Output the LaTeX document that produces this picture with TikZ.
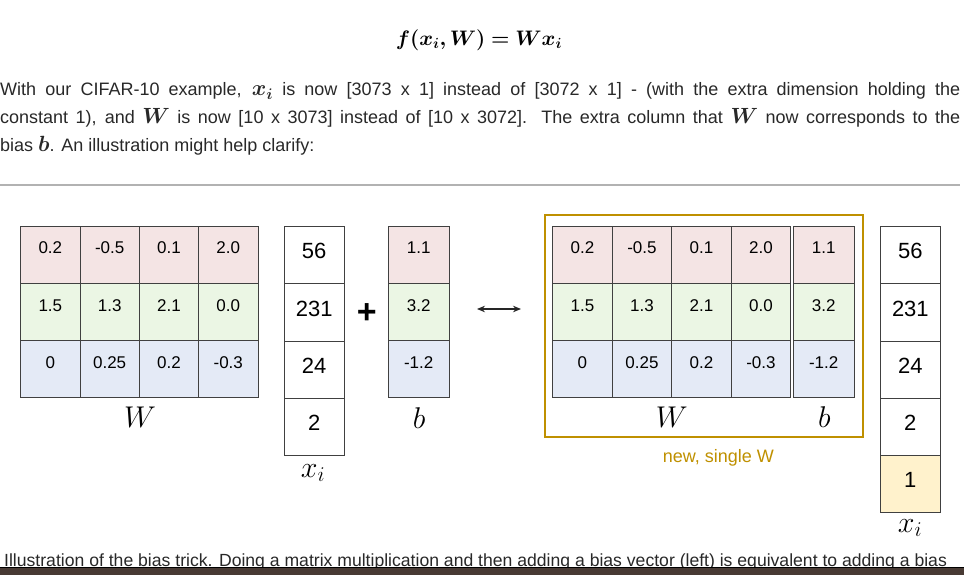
\RequirePackage{fix-cm}
\documentclass[tikz,border=0pt]{standalone}
\usepackage{amsmath,bm}
\usepackage{fontspec}
\setmainfont{Liberation Sans}
\usetikzlibrary{arrows.meta}

\definecolor{rowred}{RGB}{244,228,228}
\definecolor{rowgreen}{RGB}{235,246,228}
\definecolor{rowblue}{RGB}{228,234,246}
\definecolor{oneyellow}{RGB}{255,242,204}
\definecolor{gold}{RGB}{191,144,0}
\definecolor{textgray}{RGB}{40,40,40}
\definecolor{taskbar}{RGB}{72,58,52}

% bold inline math, a little larger than the text
\newcommand*{\inmath}[1]{{\fontsize{22}{22}\selectfont$\bm{#1}$}}

\begin{document}
\begin{tikzpicture}
[
	x=1pt, y=-1pt,
	cell/.style={draw=black!75, line width=0.9pt, minimum width=59.4pt, minimum height=57.2pt, inner sep=0pt},
	bcell/.style={cell, minimum width=60.7pt},
	xcell/.style={cell, minimum width=59.7pt},
	num/.style={font=\fontsize{17}{17}\selectfont, yshift=6.5pt},
	bignum/.style={font=\fontsize{22}{22}\selectfont, yshift=4pt},
	mathlbl/.style={font=\fontsize{30}{30}\selectfont, inner sep=0pt},
	bodytext/.style={inner sep=0pt, text=textgray, font=\fontsize{18}{28}\selectfont}
]
	\useasboundingbox (0,0) rectangle (964,575);

	% formula and text above
	\node (formula) at (479,40) {\fontsize{21}{21}\selectfont$\bm{f(x_i, W) = W x_i}$};
	\node[bodytext, anchor=base west, text width=960pt, align=justify] (para) at (0,96)
		{With our CIFAR-10 example, \inmath{x_i} is now [3073 x 1] instead of [3072 x 1] - (with the extra dimension holding the\linebreak
		constant 1), and \inmath{W} is now [10 x 3073] instead of [10 x 3072]. The extra column that \inmath{W} now corresponds to the\linebreak
		bias \inmath{b}. An illustration might help clarify:};
	\draw[black!30, line width=1.3pt] (0,185) -- (960,185);

	% left: W times x plus b
	\foreach \v [count=\c] in {0.2,-0.5,0.1,2.0}
		\node[cell, fill=rowred, label={[num]center:\v}] (wl-1-\c) at ({50.35+59.3*(\c-1)},254.6) {};
	\foreach \v [count=\c] in {1.5,1.3,2.1,0.0}
		\node[cell, fill=rowgreen, label={[num]center:\v}] (wl-2-\c) at ({50.35+59.3*(\c-1)},311.8) {};
	\foreach \v [count=\c] in {0,0.25,0.2,-0.3}
		\node[cell, fill=rowblue, label={[num]center:\v}] (wl-3-\c) at ({50.35+59.3*(\c-1)},369) {};
	\node[mathlbl] (wl-lbl) at (140,417) {$W$};
	%
	\foreach \v [count=\r] in {56,231,24,2}
		\node[xcell, fill=white, label={[bignum]center:\v}] (xl-\r) at (314.2,{255.3+57.2*(\r-1)}) {};
	\node[mathlbl] (xl-lbl) at (313,473) {$x_i$};
	%
	\node[font=\fontsize{34}{34}\selectfont\bfseries] (plus) at (366.7,314) {+};
	%
	\foreach \v/\col [count=\r] in {1.1/rowred,3.2/rowgreen,-1.2/rowblue}
		\node[bcell, fill=\col, label={[num]center:\v}] (bl-\r) at (418.7,{254.6+57.2*(\r-1)}) {};
	\node[mathlbl] (bl-lbl) at (419,418) {$b$};

	% equivalence arrow
	\coordinate (arrowL) at (477,309);
	\coordinate (arrowR) at (521,309);
	\draw[{Stealth[length=8pt,width=6.5pt]}-{Stealth[length=8pt,width=6.5pt]}, line width=1.3pt, black!85] (arrowL) -- (arrowR);

	% right: single W with b as extra column
	\node[draw=gold, line width=2pt, minimum width=318.3pt, minimum height=222.3pt, inner sep=0pt] (singlew) at (704.15,326.15) {};
	\foreach \v [count=\c] in {0.2,-0.5,0.1,2.0}
		\node[cell, fill=rowred, label={[num]center:\v}] (wr-1-\c) at ({582.45+59.5*(\c-1)},254.6) {};
	\foreach \v [count=\c] in {1.5,1.3,2.1,0.0}
		\node[cell, fill=rowgreen, label={[num]center:\v}] (wr-2-\c) at ({582.45+59.5*(\c-1)},311.8) {};
	\foreach \v [count=\c] in {0,0.25,0.2,-0.3}
		\node[cell, fill=rowblue, label={[num]center:\v}] (wr-3-\c) at ({582.45+59.5*(\c-1)},369) {};
	\foreach \v/\col [count=\r] in {1.1/rowred,3.2/rowgreen,-1.2/rowblue}
		\node[bcell, fill=\col, label={[num]center:\v}] (br-\r) at (823.65,{254.6+57.2*(\r-1)}) {};
	\node[mathlbl] (wr-lbl) at (671.7,417) {$W$};
	\node[mathlbl] (br-lbl) at (824.3,417) {$b$};
	\node[text=gold, font=\fontsize{18}{18}\selectfont] (newlbl) at (718.3,458.3) {new, single W};
	%
	\foreach \v [count=\r] in {56,231,24,2}
		\node[xcell, fill=white, label={[bignum]center:\v}] (xr-\r) at (910.35,{255.3+57.2*(\r-1)}) {};
	\node[xcell, fill=oneyellow, label={[bignum]center:1}] (xr-5) at (910.35,484.1) {};
	\node[mathlbl] (xr-lbl) at (910,528) {$x_i$};

	% caption, cut by the task bar
	\node[bodytext, anchor=base west, font=\fontsize{17.6}{18}\selectfont] (caption) at (4,566)
		{Illustration of the bias trick. Doing a matrix multiplication and then adding a bias vector (left) is equivalent to adding a bias};
	\fill[taskbar] (0,567) rectangle (964,575);
	\draw[black, line width=1pt] (0,567) -- (964,567);
\end{tikzpicture}
\end{document}
